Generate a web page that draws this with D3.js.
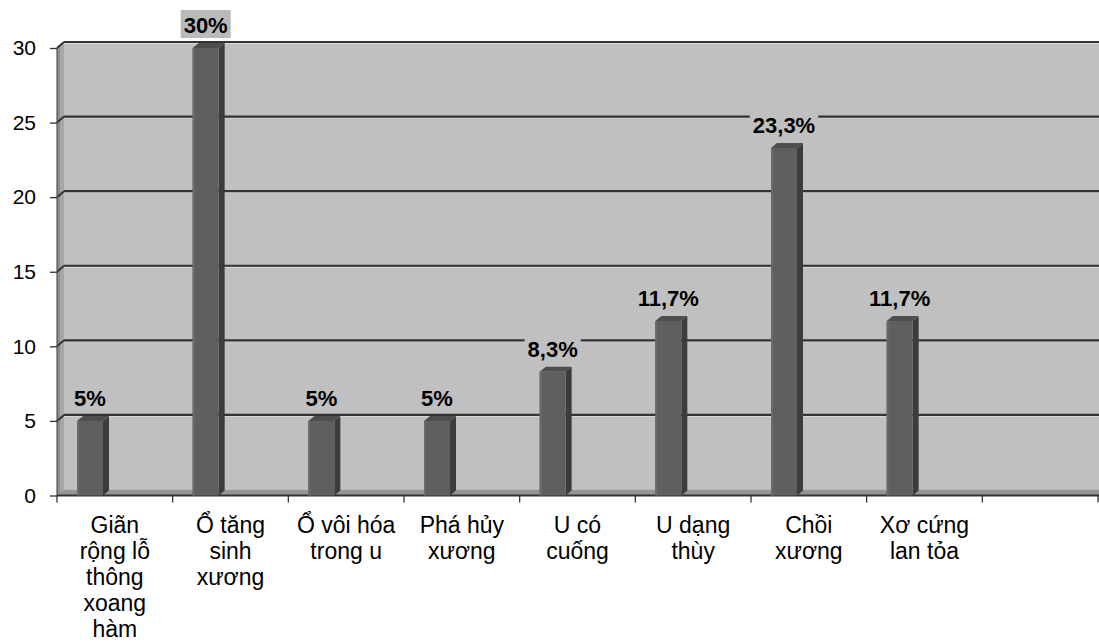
<!DOCTYPE html>
<html><head><meta charset="utf-8">
<script src="https://cdn.jsdelivr.net/npm/d3@7"></script>
<style>body{margin:0;background:#fff}svg{display:block}text{font-family:"Liberation Sans",Arial,sans-serif}</style>
</head><body><svg id="c" width="1099" height="643"></svg>
<script>
const categories = [
  ["Giãn","rộng lỗ","thông","xoang","hàm"],
  ["Ổ tăng","sinh","xương"],
  ["Ổ vôi hóa","trong u"],
  ["Phá hủy","xương"],
  ["U có","cuống"],
  ["U dạng","thùy"],
  ["Chồi","xương"],
  ["Xơ cứng","lan tỏa"]
];
const values = [5, 30, 5, 5, 8.3, 11.7, 23.3, 11.7];
const valueLabels = ["5%", "30%", "5%", "5%", "8,3%", "11,7%", "23,3%", "11,7%"];
const yTicks = [0, 5, 10, 15, 20, 25, 30];

const svg = d3.select("#c");
const W = 1099;
const dx = 7, dy = -6;         // wall depth offset
const bdx = 6, bdy = -5;       // bar depth
const keys = categories.map((c, i) => "c" + i).concat(["empty"]);
const x = d3.scaleBand().domain(keys).range([57, 1098]).paddingInner(0).paddingOuter(0);
const y = d3.scaleLinear().domain([0, 30]).range([495.5, 48]);

const y0 = y(0), yTop = y(30);
// back wall
svg.append("rect").attr("x", 57 + dx).attr("y", yTop + dy).attr("width", W - 57 - dx).attr("height", y0 - yTop)
  .attr("fill", "#c0c0c0");
// left side wall
svg.append("path").attr("d", `M57,${y0}L${57+dx},${y0+dy}L${57+dx},${yTop+dy}L57,${yTop}Z`).attr("fill", "#8e8e8e");
svg.append("path").attr("d", `M${57+3},${y0-2}L${57+dx},${y0+dy}L${57+dx},${yTop+dy}L${57+3},${yTop-2}Z`).attr("fill", "#a6a6a6");
// floor
svg.append("path").attr("d", `M57,${y0}L${57+dx},${y0+dy}L${W},${y0+dy}L${W},${y0}Z`).attr("fill", "#959595");

// gridlines
yTicks.filter(t => t > 0).forEach(t => {
  const yy = y(t);
  svg.append("line").attr("x1", 57 + dx).attr("x2", W).attr("y1", yy + dy + 1.5).attr("y2", yy + dy + 1.5)
    .attr("stroke", "#d8d8d8").attr("stroke-width", 1);
  svg.append("line").attr("x1", 57 + dx).attr("x2", W).attr("y1", yy + dy).attr("y2", yy + dy)
    .attr("stroke", "#333").attr("stroke-width", 2.2);
  svg.append("line").attr("x1", 57).attr("x2", 57 + dx).attr("y1", yy).attr("y2", yy + dy)
    .attr("stroke", "#333").attr("stroke-width", 2);
});
// axis lines
svg.append("line").attr("x1", 57).attr("x2", 57).attr("y1", yTop).attr("y2", y0).attr("stroke", "#555").attr("stroke-width", 1.2);
svg.append("line").attr("x1", 57).attr("x2", W).attr("y1", y0).attr("y2", y0).attr("stroke", "#333").attr("stroke-width", 1.8);

// y axis
const yAxis = d3.axisLeft(y).tickValues(yTicks).tickSize(7).tickPadding(14).tickFormat(d3.format("d"));
const gy = svg.append("g").attr("transform", "translate(57,0)").call(yAxis);
gy.select(".domain").remove();
gy.selectAll(".tick line").attr("stroke", "#333").attr("stroke-width", 1.3);
gy.selectAll(".tick text").attr("font-size", 21).attr("fill", "#000").attr("font-family", "Liberation Sans, Arial, sans-serif");

// x ticks at band boundaries
const bounds = keys.map(k => x(k)).concat([x.range()[1]]);
svg.selectAll(".xt").data(bounds).enter().append("line")
  .attr("x1", d => d).attr("x2", d => d).attr("y1", y0).attr("y2", y0 + 7)
  .attr("stroke", "#333").attr("stroke-width", 1.3);

// bars
const off = 20, bw = 26;
const bars = svg.append("g");
values.forEach((v, i) => {
  const bx = x(keys[i]) + off, bt = y(v);
  const g = bars.append("g");
  g.append("path").attr("d", `M${bx+bw},${bt}L${bx+bw+bdx},${bt+bdy}L${bx+bw+bdx},${y0+bdy}L${bx+bw},${y0}Z`).attr("fill", "#3c3c3c");
  g.append("path").attr("d", `M${bx},${bt}L${bx+bdx},${bt+bdy}L${bx+bw+bdx},${bt+bdy}L${bx+bw},${bt}Z`).attr("fill", "#4e4e4e");
  g.append("rect").attr("x", bx).attr("y", bt).attr("width", bw).attr("height", y0 - bt).attr("fill", "#5f5f5f");
  g.append("rect").attr("x", bx).attr("y", bt).attr("width", 2).attr("height", y0 - bt).attr("fill", "#6a6a6a");
});

// value labels
values.forEach((v, i) => {
  const cx = x(keys[i]) + off + bw / 2;
  const base = y(v) - 15;
  const t = svg.append("text").attr("x", cx).attr("y", base).attr("text-anchor", "middle")
    .attr("font-size", 22).attr("font-weight", "bold").attr("fill", "#000").text(valueLabels[i]);
  const bb = t.node().getBBox();
  svg.insert("rect", () => t.node()).attr("x", bb.x - 3).attr("y", base - 23).attr("width", bb.width + 6).attr("height", 28)
    .attr("fill", v >= 30 ? "#bababa" : "#c0c0c0");
});

// category labels
categories.forEach((lines, i) => {
  const cx = x(keys[i]) + x.bandwidth() / 2;
  const t = svg.append("text").attr("text-anchor", "middle").attr("font-size", 23).attr("fill", "#000");
  lines.forEach((l, j) => {
    t.append("tspan").attr("x", cx).attr("y", 533 + j * 26).text(l);
  });
});
</script></body></html>
